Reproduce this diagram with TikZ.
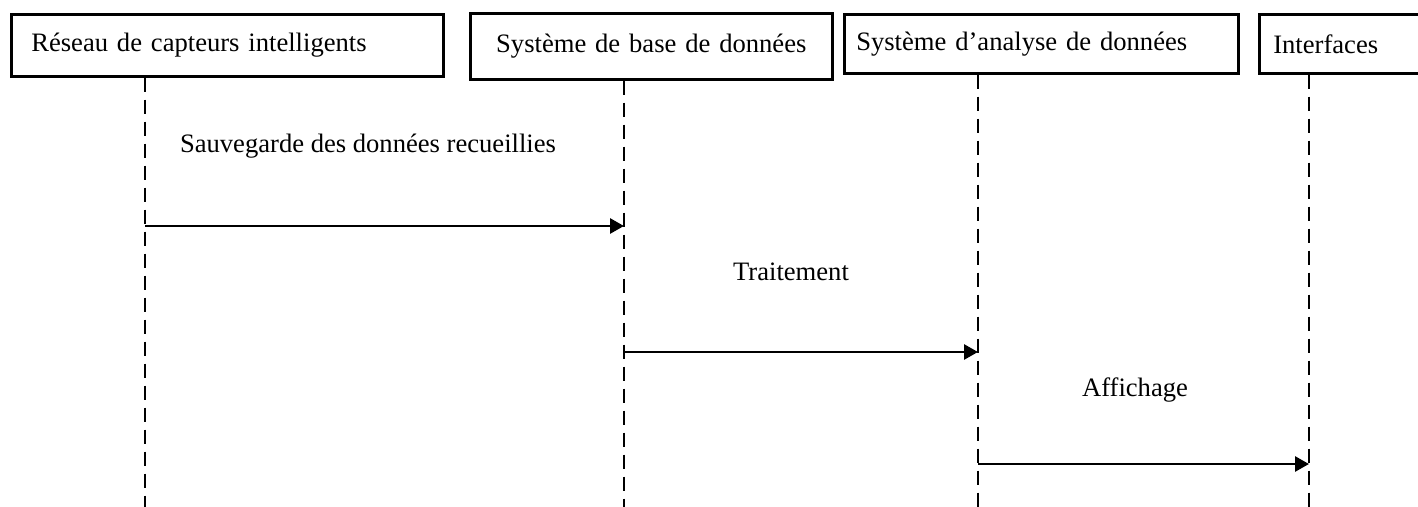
\documentclass[tikz,border=0pt]{standalone}
\usepackage{fontspec}
\setmainfont{Liberation Serif}
\usetikzlibrary{arrows.meta, positioning}

\tikzset{
  actor/.style={draw, line width=1.3pt, anchor=north west, align=left, inner ysep=0pt,
    font=\fontsize{13.3}{15}\selectfont},
  life/.style={line width=1.2pt, dash pattern=on 7pt off 4pt},
  msg/.style={line width=1.4pt, -{Triangle[length=7pt,width=7.5pt]}},
  msglabel/.style={font=\fontsize{13.3}{15}\selectfont}
}

\begin{document}
\begin{tikzpicture}[x=0.5pt, y=-0.5pt]
  \useasboundingbox (0,0) rectangle (1418,507);
  % participants
  \node[actor, inner xsep=10pt, text width=196pt, minimum height=31pt] (reseau) at (10,13) {Réseau de capteurs intelligents};
  \node[actor, align=center, inner xsep=3pt, text width=175pt, minimum height=33pt] (base) at (469,12) {Système de base de données};
  \node[actor, inner xsep=6pt, text width=185pt, minimum height=29.5pt] (analyse) at (843,13) {Système d’analyse de données};
  \node[actor, inner xsep=7pt, text width=72pt, minimum height=29.5pt] (interf) at (1258,13) {Interfaces};

  % lifelines
  \coordinate (l1) at (145,507);
  \coordinate (l2) at (624,507);
  \coordinate (l3) at (978,507);
  \coordinate (l4) at (1309,507);
  \draw[life] (l1 |- reseau.south) -- (l1);
  \draw[life] (l2 |- base.south) -- (l2);
  \draw[life] (l3 |- analyse.south) -- (l3);
  \draw[life] (l4 |- interf.south) -- (l4);

  % messages
  \coordinate (m1) at (145,226);
  \coordinate (m2) at (624,352);
  \coordinate (m3) at (978,464);
  \draw[msg] (m1) -- (m1 -| l2);
  \draw[msg] (m2) -- (m2 -| l3);
  \draw[msg] (m3) -- (m3 -| l4);
  \node[msglabel] (sauv) at (368,146) {Sauvegarde des données recueillies};
  \node[msglabel] (trait) at (791,272) {Traitement};
  \node[msglabel] (affich) at (1135,390) {Affichage};
\end{tikzpicture}
\end{document}
